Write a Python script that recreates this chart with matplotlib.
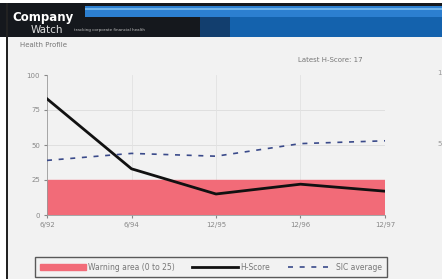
import numpy as np
import matplotlib.pyplot as plt
from matplotlib.patches import Rectangle, Patch
from matplotlib.lines import Line2D

# datos
periodos = ['6/92', '6/94', '12/95', '12/96', '12/97']
h_score = [83, 33, 15, 22, 17]
sic_promedio = [39, 44, 42, 51, 53]
zona_aviso = (0, 25)

W, H = 442, 279
fondo = '#f2f2f2'
fig = plt.figure(figsize=(W / 100, H / 100), dpi=100)
fig.patch.set_facecolor(fondo)

def caja(x, y, w, h, color, **kw):
    # rectangulo en pixeles (origen arriba a la izquierda)
    fig.patches.append(Rectangle((x / W, 1 - (y + h) / H), w / W, h / H,
                                 transform=fig.transFigure, color=color, lw=0, **kw))

# cabecera
caja(0, 0, W, 3, '#ffffff')
caja(0, 3, W, 34, '#15181d')
caja(200, 17, 30, 20, '#123e6e')
caja(230, 17, W - 230, 20, '#1462ad')
caja(85, 6, W - 85, 11, '#2c7fd0')
caja(85, 8, W - 85, 2, '#6fb3ea')
caja(0, 37, 7, H - 37, '#ffffff')
caja(6, 3, 2, H - 3, '#222222')
fig.text(12 / W, 1 - 17 / H, 'Company', color='white', fontsize=8.5,
         fontweight='bold', va='center')
fig.text(31 / W, 1 - 30 / H, 'Watch', color='#dddddd', fontsize=7.5, va='center')
fig.text(74 / W, 1 - 30 / H, 'tracking corporate financial health', color='#bbbbbb',
         fontsize=3, va='center')

fig.text(20 / W, 1 - 47 / H, 'Health Profile', color='#777777', fontsize=5)
fig.text(298 / W, 1 - 62 / H, 'Latest H-Score: 17', color='#777777', fontsize=5)
fig.text(437 / W, 1 - 75 / H, '1', color='#999999', fontsize=5)
fig.text(437 / W, 1 - 146 / H, '5', color='#999999', fontsize=5)

ax = fig.add_axes([47 / W, 1 - 215 / H, 338 / W, 140 / H])
ax.set_facecolor(fondo)
x = np.arange(len(periodos))

ax.axhspan(zona_aviso[0], zona_aviso[1], color='#f26b78', zorder=1)
for v in [50, 75]:
    ax.axhline(v, color='#dcdcdc', lw=0.6, zorder=0)
for xi in x[1:]:
    ax.axvline(xi, color='#e2e2e2', lw=0.6, zorder=0)
ax.plot(x, h_score, color='#111111', lw=2, zorder=3)
ax.plot(x, sic_promedio, color='#3a4a8a', lw=1.2, ls=(0, (3, 4)), zorder=3)

ax.set_xlim(0, len(periodos) - 1)
ax.set_ylim(0, 100)
ax.set_xticks(x)
ax.set_xticklabels(periodos)
ax.set_yticks([0, 25, 50, 75, 100])
ax.tick_params(labelsize=5, colors='#888888', length=2, pad=3)
for lado in ['top', 'right']:
    ax.spines[lado].set_visible(False)
for lado in ['left', 'bottom']:
    ax.spines[lado].set_color('#999999')
    ax.spines[lado].set_linewidth(0.6)

manijas = [Patch(color='#f26b78'),
           Line2D([], [], color='#111111', lw=2),
           Line2D([], [], color='#3a4a8a', lw=1.2, ls=(0, (3, 4)))]
etiquetas = ['Warning area (0 to 25)', 'H-Score', 'SIC average']
fig.legend(manijas, etiquetas, loc='lower left', mode='expand',
           bbox_to_anchor=(35 / W, 1 - 277 / H, 352 / W, 28 / H),
           ncol=3, fontsize=5.5, frameon=True, fancybox=False, edgecolor='#333333',
           facecolor=fondo, handlelength=6, handletextpad=0.3, columnspacing=1.0,
           borderpad=0.7, borderaxespad=0, labelcolor='#777777')

fig.savefig('out.png', dpi=100, facecolor=fig.get_facecolor())
